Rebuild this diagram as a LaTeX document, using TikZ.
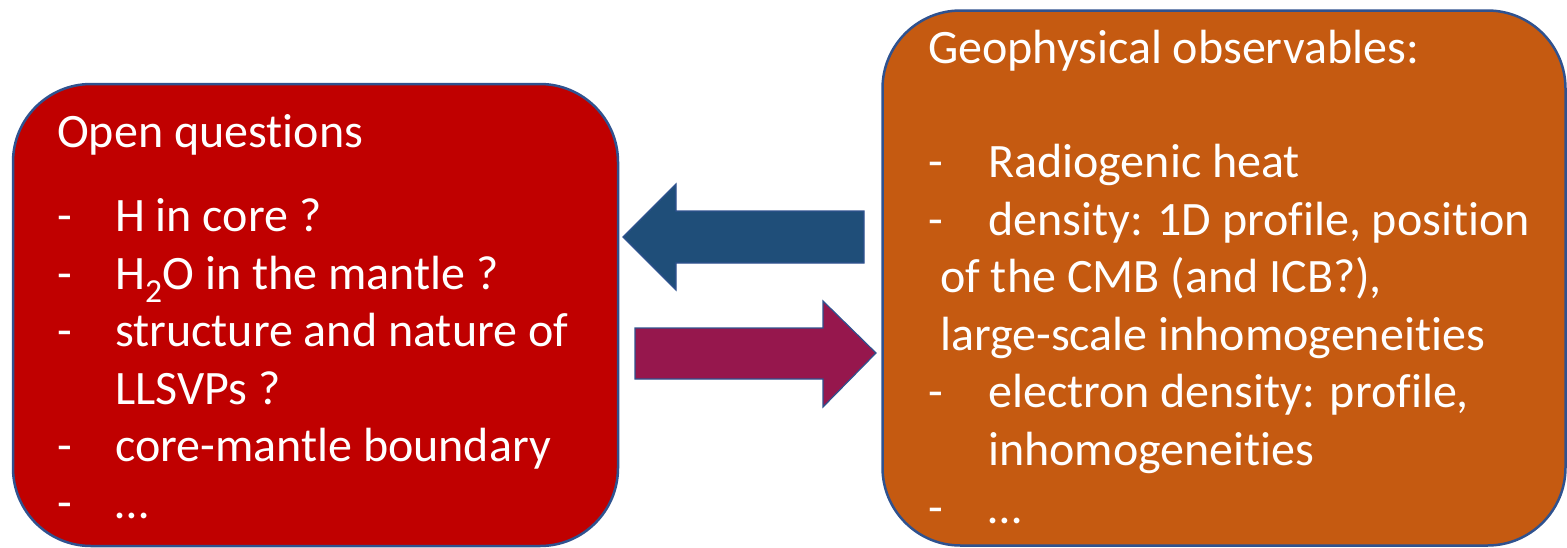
\documentclass[tikz,border=0pt]{standalone}
\usepackage{fontspec}
\setmainfont{Carlito}[Ligatures={NoCommon}]
\begin{document}
\definecolor{qred}{HTML}{C00000}
\definecolor{obsorange}{HTML}{C55A11}
\definecolor{edgeblue}{HTML}{2F528F}
\definecolor{arrowblue}{HTML}{1F4E79}
\definecolor{arrowplum}{RGB}{150,23,77}
\begin{tikzpicture}[x=1pt,y=-1pt,
  panel/.style={draw=edgeblue, line width=2.5pt, rounded corners=78pt, inner sep=0pt},
  blockarrow/.style={draw=edgeblue, line width=1.2pt},
  txt/.style={anchor=base west, inner sep=0pt, text=white,
    font=\fontsize{48}{58}\selectfont}]
\useasboundingbox (0,0) rectangle (1567,547);

% the two rounded panels
\node[panel, fill=qred, minimum width=605pt, minimum height=462pt] (qbox) at (315.5,315) {};
\node[panel, fill=obsorange, minimum width=683pt, minimum height=535pt] (obox) at (1224,278) {};

% block arrows between the panels
\fill[arrowblue] (864,211) -- (676,211) -- (676,184) -- (623,237) -- (676,290) -- (676,263) -- (864,263) -- cycle;
\draw[blockarrow] (864,211) -- (676,211) -- (676,184) -- (623,237) -- (676,290) -- (676,263) -- (864,263) -- cycle;
\fill[arrowplum] (635,328) -- (823,328) -- (823,301) -- (876,353) -- (823,407) -- (823,379) -- (635,379) -- cycle;
\draw[blockarrow] (635,328) -- (823,328) -- (823,301) -- (876,353) -- (823,407) -- (823,379) -- (635,379) -- cycle;

% left panel text
\node[txt] (qtitle) at (57,147) {Open questions};
\node[txt] (qd1) at (57,231) {-};
\node[txt] (q1) at (115,231) {H in core ?};
\node[txt] (qd2) at (57,289) {-};
\node[txt] (q2) at (115,289) {H\textsubscript{2}O in the mantle ?};
\node[txt] (qd3) at (57,346) {-};
\node[txt] (q3) at (115,346) {structure and nature of};
\node[txt] (q3b) at (115,404) {LLSVPs ?};
\node[txt] (qd4) at (57,461) {-};
\node[txt] (q4) at (115,461) {core-mantle boundary};
\node[txt] (qd5) at (57,518) {-};
\node[txt] (q5) at (115,518) {…};

% right panel text
\node[txt] (otitle) at (928,63) {Geophysical observables:};
\node[txt] (od1) at (928,177) {-};
\node[txt] (o1) at (988,177) {Radiogenic heat};
\node[txt] (od2) at (928,235) {-};
\node[txt] (o2) at (988,235) {density: 1D profile, position};
\node[txt] (o2b) at (940,292) {of the CMB (and ICB?),};
\node[txt] (o2c) at (940,350) {large-scale inhomogeneities};
\node[txt] (od3) at (928,407) {-};
\node[txt] (o3) at (988,407) {electron density: profile,};
\node[txt] (o3b) at (988,465) {inhomogeneities};
\node[txt] (od4) at (928,523) {-};
\node[txt] (o4) at (988,523) {…};
\end{tikzpicture}
\end{document}
